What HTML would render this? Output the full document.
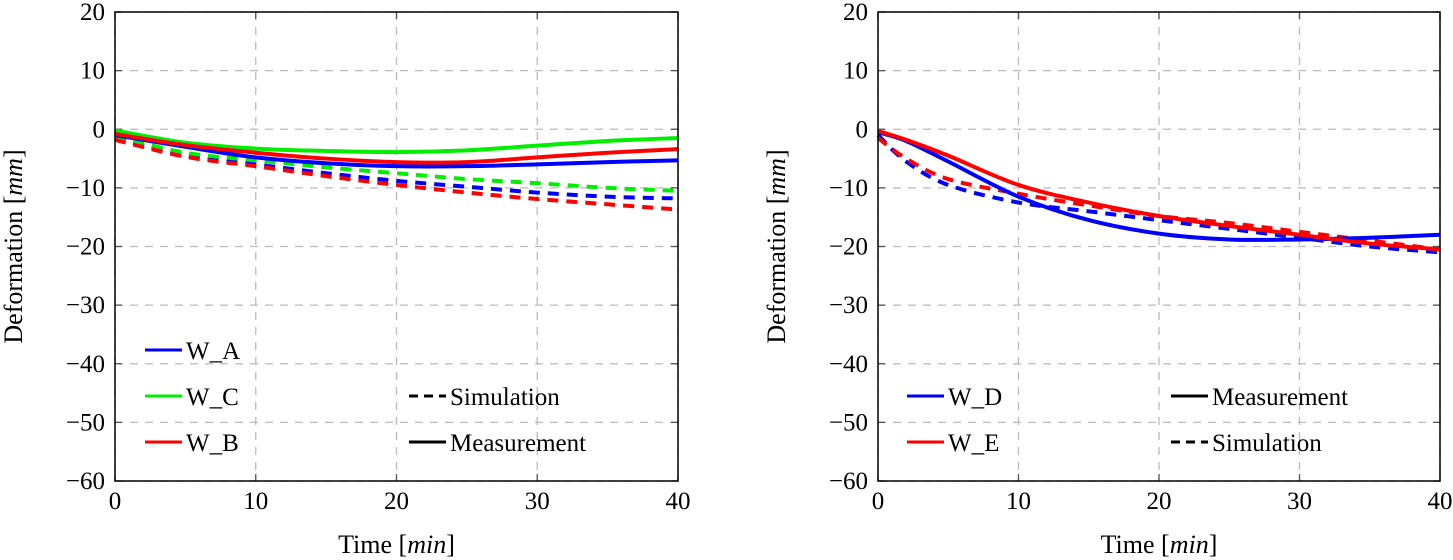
<!DOCTYPE html>
<html><head><meta charset="utf-8"><style>
body{margin:0;background:#fff}
svg{display:block;font-family:"Liberation Serif",serif}
</style></head><body>
<svg id="c" width="1453" height="560"></svg>
<script>
const xs=[0,5,10,15,20,25,30,35,40];
const xTicks=[0,10,20,30,40];
const yTicks=[20,10,0,-10,-20,-30,-40,-50,-60];
const wA=[-1,-3,-4.8,-5.8,-6.3,-6.3,-6,-5.6,-5.3];
const wC=[-0.2,-2.3,-3.3,-3.7,-3.9,-3.6,-2.8,-2,-1.5];
const wB=[-0.8,-2.7,-4,-5,-5.6,-5.6,-4.8,-4,-3.4];
const wAsim=[-1.5,-4.5,-6,-7.5,-8.8,-9.8,-10.8,-11.5,-11.8];
const wCsim=[-1.2,-4,-5.3,-6.5,-7.5,-8.5,-9.2,-10,-10.5];
const wBsim=[-1.8,-4.7,-6.3,-8,-9.5,-10.8,-11.9,-12.8,-13.7];
const xs2=[0,2,5,10,15,20,25,30,35,40];
const wD=[-0.5,-2,-5.5,-11.5,-15.5,-17.8,-18.8,-18.8,-18.5,-18];
const wE=[-0.3,-1.8,-4.5,-9.5,-12.5,-14.8,-16.5,-18,-19.5,-20.5];
const wDsim=[-1,-5.5,-9.5,-12.5,-14,-15.5,-17,-18.5,-20,-21];
const wEsim=[-1.5,-5,-8.5,-11,-13,-14.8,-16,-17.5,-19,-20.5];

const svg=document.getElementById('c');
const NS='http://www.w3.org/2000/svg';
function mk(t,a,p){const e=document.createElementNS(NS,t);for(const k in a)e.setAttribute(k,a[k]);(p||svg).appendChild(e);return e;}
function smooth(pts){
  let d='M'+pts[0][0]+','+pts[0][1];
  for(let i=0;i<pts.length-1;i++){
    const p0=pts[Math.max(0,i-1)],p1=pts[i],p2=pts[i+1],p3=pts[Math.min(pts.length-1,i+2)];
    const c1=[p1[0]+(p2[0]-p0[0])/6,p1[1]+(p2[1]-p0[1])/6];
    const c2=[p2[0]-(p3[0]-p1[0])/6,p2[1]-(p3[1]-p1[1])/6];
    d+='C'+c1+' '+c2+' '+p2;
  }
  return d;
}
function panel(name,x0,x1,series,legend){
  const y0=12,y1=481;
  const sx=v=>x0+(v/40)*(x1-x0);
  const sy=v=>y0+(20-v)/80*(y1-y0);
  const g=mk('g',{});
  
  
  xTicks.forEach(t=>{
    const l=mk('line',{x1:sx(t),x2:sx(t),y1:y0,y2:y1,stroke:'#bbb','stroke-width':1.3,'stroke-dasharray':'8 7'},g);
    
    
    mk('line',{x1:sx(t),x2:sx(t),y1:y1,y2:y1-7,stroke:'#555','stroke-width':1.3},g);
    mk('line',{x1:sx(t),x2:sx(t),y1:y0,y2:y0+7,stroke:'#555','stroke-width':1.3},g);
    const tx=mk('text',{x:sx(t),y:509,'font-size':25,'text-anchor':'middle'},g);
    tx.textContent=t;
    
    
  });
  yTicks.forEach(t=>{
    const l=mk('line',{x1:x0,x2:x1,y1:sy(t),y2:sy(t),stroke:'#bbb','stroke-width':1.3,'stroke-dasharray':'8 7'},g);
    
    
    mk('line',{x1:x0,x2:x0+7,y1:sy(t),y2:sy(t),stroke:'#555','stroke-width':1.3},g);
    mk('line',{x1:x1,x2:x1-7,y1:sy(t),y2:sy(t),stroke:'#555','stroke-width':1.3},g);
    const tx=mk('text',{x:x0-10,y:sy(t)+8,'font-size':25,'text-anchor':'end'},g);
    tx.textContent=(t<0?'\u2212'+(-t):t);
    
    
  });
  series.forEach(s=>{
    const pts=s.x.map((v,i)=>[sx(v),sy(s.y[i])]);
    const p=mk('path',{d:smooth(pts),fill:'none',stroke:s.c,'stroke-width':4,'stroke-linejoin':'round'},g);
    if(s.dash)p.setAttribute('stroke-dasharray','11 8');
    
    
  });
  const fr=mk('rect',{x:x0,y:y0,width:x1-x0,height:y1-y0,fill:'none',stroke:'#000','stroke-width':1.5},g);
  
  
  const xl=mk('text',{x:(x0+x1)/2,y:553,'font-size':26,'text-anchor':'middle'},g);
  xl.innerHTML='Time [<tspan font-style="italic">min</tspan>]';
  
  
  const yl=mk('text',{x:0,y:0,'font-size':26,'text-anchor':'middle',transform:`translate(${x0-93},${(y0+y1)/2}) rotate(-90)`},g);
  yl.innerHTML='Deformation [<tspan font-style="italic">mm</tspan>]';
  
  
  legend.forEach(e=>{
    const lg=mk('g',{},g);
    
    
    const l=mk('line',{x1:e.x,x2:e.x+37,y1:e.y,y2:e.y,stroke:e.c,'stroke-width':3},lg);
    if(e.dash)l.setAttribute('stroke-dasharray','9 6');
    const t=mk('text',{x:e.x+41,y:e.y+9,'font-size':25},lg);
    t.textContent=e.t;
  });
}
panel('left-panel',115,678,[
 {x:xs,y:wAsim,c:'#0000ff',dash:1,n:'w-a-simulation'},
 {x:xs,y:wCsim,c:'#00ee00',dash:1,n:'w-c-simulation'},
 {x:xs,y:wBsim,c:'#ff0000',dash:1,n:'w-b-simulation'},
 {x:xs,y:wA,c:'#0000ff',n:'w-a-measurement'},
 {x:xs,y:wC,c:'#00ee00',n:'w-c-measurement'},
 {x:xs,y:wB,c:'#ff0000',n:'w-b-measurement'}
],[
 {x:145,y:350,c:'#0000ff',t:'W_A'},
 {x:145,y:396,c:'#00ee00',t:'W_C'},
 {x:145,y:442,c:'#ff0000',t:'W_B'},
 {x:409,y:396,c:'#000',dash:1,t:'Simulation'},
 {x:409,y:442,c:'#000',t:'Measurement'}
]);
panel('right-panel',878,1440,[
 {x:xs2,y:wDsim,c:'#0000ff',dash:1,n:'w-d-simulation'},
 {x:xs2,y:wEsim,c:'#ff0000',dash:1,n:'w-e-simulation'},
 {x:xs2,y:wD,c:'#0000ff',n:'w-d-measurement'},
 {x:xs2,y:wE,c:'#ff0000',n:'w-e-measurement'}
],[
 {x:907,y:396,c:'#0000ff',t:'W_D'},
 {x:907,y:442,c:'#ff0000',t:'W_E'},
 {x:1171,y:396,c:'#000',t:'Measurement'},
 {x:1171,y:442,c:'#000',dash:1,t:'Simulation'}
]);
</script>
</body></html>
